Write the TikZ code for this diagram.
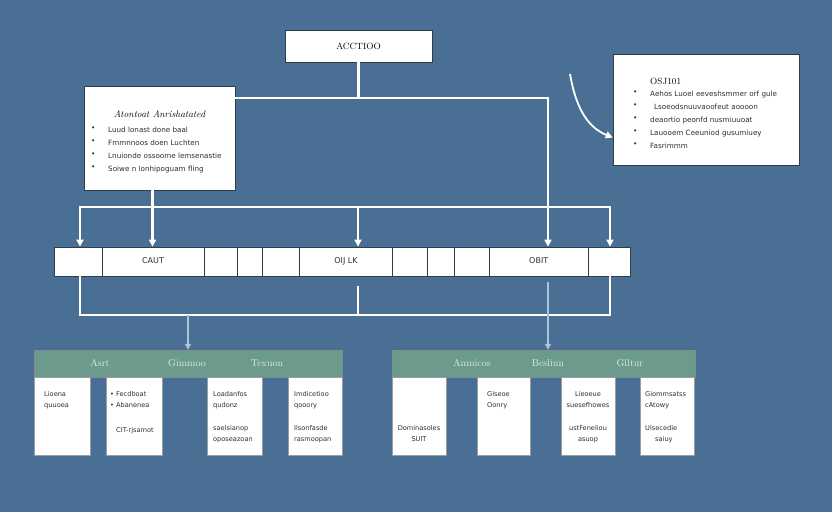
\documentclass[tikz,border=0pt]{standalone}
\usepackage{fontspec}
\usepackage{xcolor}
\usetikzlibrary{positioning}
\usetikzlibrary{arrows.meta}
\usetikzlibrary{calc}

\newfontfamily\notefont{DejaVu Sans}

\definecolor{bgblue}{HTML}{4A6F94}
\definecolor{panelgreen}{HTML}{6C9A8C}
\definecolor{edgegrey}{HTML}{2F3C4A}
\definecolor{paleblue}{HTML}{A9C6DC}
\definecolor{inkgrey}{HTML}{2E2E2E}

\begin{document}
\begin{tikzpicture}[
    x=1pt, y=-1pt,
    card/.style={draw=edgegrey, line width=0.6pt, fill=white, inner sep=0pt},
    cell/.style={draw=edgegrey, line width=0.8pt, fill=white, minimum height=29pt, inner sep=0pt, text height=6pt, text depth=1.5pt, font=\notefont\fontsize{8}{10}\selectfont, text=inkgrey},
    head/.style={draw=edgegrey!60, line width=0.5pt, fill=panelgreen, minimum height=27pt, inner sep=0pt},
    col/.style={draw=edgegrey!50, line width=0.5pt, fill=white, minimum height=78pt, inner sep=0pt},
    note/.style={align=left, anchor=north west, inner sep=0pt, font=\notefont\fontsize{6.6}{11}\selectfont, text=inkgrey},
    boxnote/.style={note, font=\notefont\fontsize{7.2}{11}\selectfont},
    htext/.style={text=white!80!panelgreen, font=\fontsize{10}{11}\selectfont},
    wire/.style={draw=white, line width=2.2pt},
    arrow/.style={-{Triangle[length=7pt,width=7pt]}},
    twoarrow/.style={{Triangle[length=7pt,width=7pt]}-{Triangle[length=7pt,width=7pt]}},
    thinarrow/.style={draw=paleblue, line width=1.4pt, -{Triangle[length=6pt,width=6pt]}}
]
    % background
    \fill[bgblue] (0,0) rectangle (832,512);
    \useasboundingbox (0,0) rectangle (832,512);

    % top boxes
    \node[card, minimum width=147pt, minimum height=32pt, font=\fontsize{9}{10}\selectfont] (acc) at (358.5,46) {ACCTIOO};

    \node[card, minimum width=151pt, minimum height=104pt] (arch) at (159.5,138) {};
    \node[font=\fontsize{9.5}{10}\selectfont\itshape, inner sep=0pt, below=25pt of arch.north] (archT) {Atontoat Anrishatated};
    \foreach \t [count=\i] in {Luud lonast done baal, Fmmnnoos doen Luchten,
        Lnuionde ossoome lemsenastie, Soiwe n lonhipoguam fling} {
        \node[boxnote] (archB\i) at (91,{127+13*(\i-1)}) {\textbullet};
        \node[boxnote] (archL\i) at (108,{127+13*(\i-1)}) {\t};
    }

    \node[card, minimum width=186pt, minimum height=111pt] (osj) at (706,109.5) {};
    \node[font=\fontsize{9}{10}\selectfont, anchor=west, inner sep=0pt] (osjT) at (650,81) {OSJ101};
    \foreach \t [count=\i] in {Aehos Luoel eeveshsmmer orf gule, \hspace{4pt}Lsoeodsnuuvaoofeut aoooon,
        deaortio peonfd nusmiuuoat, Lauooem Ceeuniod gusumiuey, Fasrimmm} {
        \node[boxnote] (osjB\i) at (633,{91+13*(\i-1)}) {\textbullet};
        \node[boxnote] (osjL\i) at (650,{91+13*(\i-1)}) {\t};
    }

    % the bar
    \foreach \xa/\xb/\nm/\lbl in {54.5/102/c1/, 102/204/c2/CAUT, 204/237/c3/, 237/262.5/c4/,
        262.5/299.5/c5/, 299.5/392.5/c6/OIJ LK, 392.5/427.5/c7/, 427.5/454.5/c8/,
        454.5/489.5/c9/, 489.5/588/c10/OBIT, 588/630/c11/} {
        \node[cell, minimum width={(\xb-\xa)*1pt}] (\nm) at ({(\xa+\xb)/2},261.5) {\lbl};
    }

    % connectors above the bar
    \coordinate (j1) at (548,98);
    \draw[wire] (acc.south) -- (acc.south |- j1);
    \draw[wire, arrow] (arch.east |- j1) -- (j1) -- (j1 |- c10.north);

    \coordinate (dl) at (80,207);
    \coordinate (dr) at (610,207);
    \coordinate (dm) at (358,207);
    \draw[wire, twoarrow] (dl |- c1.north) -- (dl) -- (dr) -- (dr |- c11.north);
    \draw[wire, arrow] (dm) -- (dm |- c6.north);
    \draw[wire, arrow] ([xshift=-7pt]arch.south) -- ([xshift=-7pt]arch.south |- c2.north);

    \coordinate (cstart) at (570,74);
    \draw[wire, line width=1.8pt, arrow] (cstart) to[out=-80, in=158] ([yshift=-28pt]osj.west);

    % connectors below the bar
    \coordinate (bl) at (80,315);
    \coordinate (br) at (610,315);
    \coordinate (mdrop) at (358,286);
    \coordinate (rdrop) at (548,282);
    \draw[wire] (c1.south -| bl) -- (bl) -- (br) -- (c11.south -| br);
    \draw[wire] (mdrop) -- (mdrop |- bl);

    % bottom panels
    \node[head, minimum width=308pt] (hdL) at (188,363.5) {};
    \node[head, minimum width=303pt] (hdR) at (543.5,363.5) {};
    \draw[thinarrow] (bl -| hdL.north) -- (hdL.north);
    \draw[thinarrow] (rdrop) -- (rdrop |- hdR.north);

    \node[htext] (hAsrt) at (100,363) {Asrt};
    \node[htext] (hGim) at (187,363) {Gimmoo};
    \node[htext] (hTex) at (267,363) {Texuon};
    \node[htext] (hAnm) at (472,363) {Anmicos};
    \node[htext] (hBes) at (548,363) {Besliun};
    \node[htext] (hGll) at (630,363) {Glltur};

    \foreach \xa/\xb/\nm in {34/90/kL1, 106/162/kL2, 207/262/kL3, 288/342/kL4,
        392/446/kR1, 477/530/kR2, 561/615/kR3, 640/694/kR4} {
        \node[col, minimum width={(\xb-\xa)*1pt}] (\nm) at ({(\xa+\xb)/2},416.5) {};
    }

    % column texts
    \node[note] (tL1a) at (44,391) {Lioena\\quuoea};
    \node[note] (tL2a) at (110,391) {\textbullet\ Fecdboat\\\textbullet\ Abanenea};
    \node[note] (tL2b) at (116,427) {CIT-rjsamot};
    \node[note] (tL3a) at (213,391) {Loadanfos\\qudonz};
    \node[note] (tL3b) at (213,425) {saelsianop\\oposeazoan};
    \node[note] (tL4a) at (294,391) {Imdicetioo\\qooory};
    \node[note] (tL4b) at (294,425) {Ilsonfasde\\rasmoopan};

    \node[note, anchor=north, align=center] (tR1b) at (419,425) {Dominasoles\\SUIT};
    \node[note] (tR2a) at (487,391) {Glseoe\\Oonry};
    \node[note, anchor=north, align=center] (tR3a) at (588,391) {Lieoeue\\suesefhowes};
    \node[note, anchor=north, align=center] (tR3b) at (588,425) {ustFeneliou\\asuop};
    \node[note] (tR4a) at (645,391) {Giommsatss\\cAtowy};
    \node[note] (tR4b) at (645,425) {Ulsecedie\\\hspace{10pt}saiuy};
\end{tikzpicture}
\end{document}
